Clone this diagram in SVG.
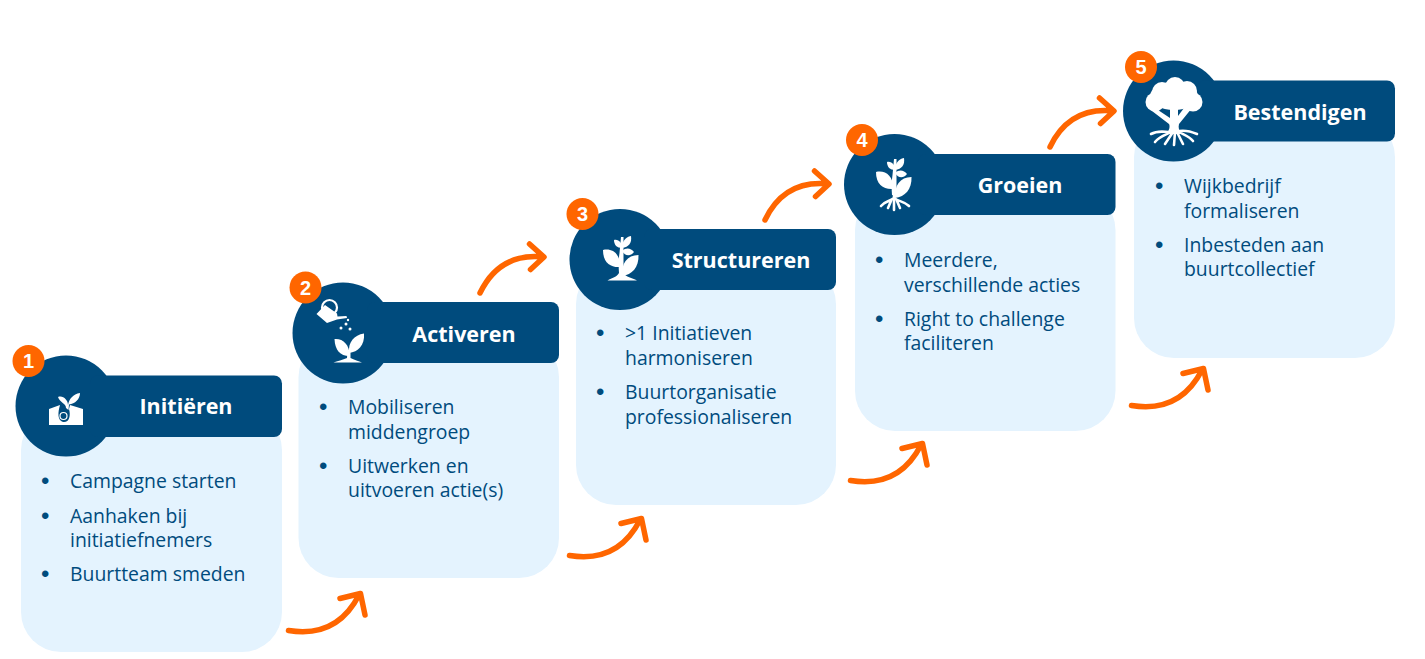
<svg xmlns="http://www.w3.org/2000/svg" width="1425" height="659" viewBox="0 0 1425 659">
<style>
.panel{fill:#e4f3fe}
.head{fill:#004b7d}
.badge{fill:#ff6600}
.num{font:700 20px "Liberation Sans",Arial,sans-serif;fill:#fff;text-anchor:middle}
.title{font:700 21.5px "Open Sans","Liberation Sans",sans-serif;fill:#fff;text-anchor:middle}
.body{font:400 19.4px "Open Sans","Liberation Sans",sans-serif;fill:#004b7d}
.bul{font:400 24px "Liberation Sans",Arial,sans-serif;fill:#004b7d}
.ic{fill:#fff}
.ico{fill:none;stroke:#fff;stroke-linecap:round}
.arrow{fill:none;stroke:#ff6600;stroke-width:5.5;stroke-linecap:round;stroke-linejoin:round}
</style>
<defs>
<g id="plant3">
<path class="ic" d="M-2,-8 C-2.500,-14 -2.500,-22 -1.500,-28 L0,-44 L2.500,-44 L2.500,-28 C2.500,-22 2.500,-14 2.500,-8 Z"/>
<path class="ic" d="M-18,-31 C-9,-33 -1,-28 -0.500,-14 C-10,-13 -18,-18 -18,-31 Z"/>
<path class="ic" d="M17.500,-26 C18,-14 11,-6 1,-5 C0,-17 6,-26 17.500,-26 Z"/>
<path class="ic" d="M-7,-41 C-2,-42 1,-38 1,-33 C-4,-33 -7,-36 -7,-41 Z"/>
<path class="ic" d="M10,-45 C11,-38 8,-34 1,-33 C1,-39 4,-44 10,-45 Z"/>
<path class="ic" d="M13,-29 C9,-24 4,-25 1,-30 C5,-34 10,-33 13,-29 Z"/>
</g>
<path id="up" class="arrow" d="M480,293 C492,268 512,254 543,257 M529.500,244 L544,257 L530.500,269.500"/>
<path id="low" class="arrow" d="M288.500,630.500 C316,635 342,628 359,595 M340,598.500 L360.500,593.500 L365,615"/>
</defs>

<g id="connectors">
<use href="#low"/>
<use href="#low" x="281" y="-75"/>
<use href="#low" x="562" y="-150"/>
<use href="#low" x="843" y="-225"/>
<use href="#up"/>
<use href="#up" x="285" y="-73"/>
<use href="#up" x="570" y="-146"/>
</g>

<g id="step1">
<rect class="panel" x="21" y="410" width="261" height="242" rx="40"/>
<circle class="head" cx="66" cy="406" r="50.5"/>
<rect class="head" x="90" y="375.5" width="192" height="61.5" rx="8"/>
<circle class="badge" cx="28.500" cy="361" r="16"/>
<text class="num" x="28.500" y="368">1</text>
<g>
<path class="ic" d="M49,425 V409 L60,405 C58,412 57,420 63,422 C69,423 71,416 69,409 L70,405 L83,409 V425 Z"/>
<path class="ic" d="M66,408 C66,403 60,403 58,397 C63,395 68,400 68,405 C69,399 73,394 80,393 C80,399 75,404 69,404.500 L68.500,410 Z"/>
<circle cx="63.500" cy="416" r="3.500" fill="none" stroke="#fff" stroke-width="1.200"/>
</g>
<text class="title" x="186" y="414">Initiëren</text>
<text class="bul" x="41" y="489">•</text><text class="body" x="70" y="488">Campagne starten</text>
<text class="bul" x="41" y="524">•</text><text class="body" x="70" y="523">Aanhaken bij</text>
<text class="body" x="70" y="547">initiatiefnemers</text>
<text class="bul" x="41" y="582">•</text><text class="body" x="70" y="581">Buurtteam smeden</text>
</g>

<g id="step2">
<rect class="panel" x="298.500" y="337" width="260.500" height="241" rx="40"/>
<circle class="head" cx="343" cy="333" r="50.5"/>
<rect class="head" x="367" y="302" width="192" height="61" rx="8"/>
<circle class="badge" cx="305.500" cy="287.500" r="16"/>
<text class="num" x="305.500" y="294.500">2</text>
<g>
<path class="ic" d="M316.500,314 L325,305 L337,313.500 L337.500,316.500 L346.500,316 L347,318 L337,319.500 L327,323 Z"/>
<circle cx="329.500" cy="307.500" r="7.500" fill="none" stroke="#fff" stroke-width="2.200"/>
<circle class="ic" cx="341" cy="328" r="1.500"/><circle class="ic" cx="346" cy="324" r="1.500"/><circle class="ic" cx="350" cy="329" r="1.500"/><circle class="ic" cx="348" cy="320" r="1.200"/>
<path class="ic" d="M334.500,339 C342,338 350,344 349.500,356 C340,356 335,350 334.500,339 Z"/>
<path class="ic" d="M364,333.500 C365,345 358,352 349,353 C348,342 354,335 364,333.500 Z"/>
<path class="ic" d="M347.500,350 H350.500 V358 C354,360 359,361 362,362.500 H333.500 C337,361 343,360 347,358 Z"/>
</g>
<text class="title" x="464" y="342">Activeren</text>
<text class="bul" x="319" y="415">•</text><text class="body" x="348" y="414">Mobiliseren</text>
<text class="body" x="348" y="439">middengroep</text>
<text class="bul" x="319" y="474">•</text><text class="body" x="348" y="473">Uitwerken en</text>
<text class="body" x="348" y="497">uitvoeren actie(s)</text>
</g>

<g id="step3">
<rect class="panel" x="576" y="264" width="260" height="241" rx="40"/>
<circle class="head" cx="620" cy="259.500" r="50.5"/>
<rect class="head" x="644" y="229" width="192" height="61" rx="8"/>
<circle class="badge" cx="582.500" cy="214" r="16"/>
<text class="num" x="582.500" y="221">3</text>
<g>
<use href="#plant3" x="621" y="281"/>
<path class="ic" d="M607.500,280.500 C612,278 617,277 619,273 H623 C626,277 632,278 637,280.500 Z"/>
</g>
<text class="title" x="741" y="268">Structureren</text>
<text class="bul" x="596" y="341">•</text><text class="body" x="625" y="340">&gt;1 Initiatieven</text>
<text class="body" x="625" y="365">harmoniseren</text>
<text class="bul" x="596" y="400">•</text><text class="body" x="625" y="399">Buurtorganisatie</text>
<text class="body" x="625" y="424">professionaliseren</text>
</g>

<g id="step4">
<rect class="panel" x="855" y="190" width="260.500" height="241" rx="40"/>
<circle class="head" cx="894.500" cy="184.500" r="50.5"/>
<rect class="head" x="918" y="154" width="197.500" height="61" rx="8"/>
<circle class="badge" cx="862" cy="140" r="16"/>
<text class="num" x="862" y="147">4</text>
<g>
<use href="#plant3" x="894" y="203"/>
<path class="ico" stroke-width="2.600" d="M894,194 V210 M894,198 C889,202 885,201 881,206 M894,198 C899,202 904,201 909,206 M891,201 L888,208 M897,201 L900,208"/>
</g>
<text class="title" x="1020" y="193">Groeien</text>
<text class="bul" x="875" y="268">•</text><text class="body" x="904" y="267">Meerdere,</text>
<text class="body" x="904" y="292">verschillende acties</text>
<text class="bul" x="875" y="327">•</text><text class="body" x="904" y="326">Right to challenge</text>
<text class="body" x="904" y="350">faciliteren</text>
</g>

<g id="step5">
<rect class="panel" x="1134" y="117" width="261" height="241" rx="40"/>
<circle class="head" cx="1173.500" cy="111" r="50.5"/>
<rect class="head" x="1197" y="80.500" width="198" height="61" rx="8"/>
<circle class="badge" cx="1141" cy="67" r="16"/>
<text class="num" x="1141" y="74">5</text>
<g>
<ellipse class="ic" cx="1174" cy="96" rx="24" ry="14"/>
<circle class="ic" cx="1155" cy="102" r="9.500"/>
<circle class="ic" cx="1162" cy="92" r="10"/>
<circle class="ic" cx="1175" cy="87" r="10"/>
<circle class="ic" cx="1187" cy="91" r="10"/>
<circle class="ic" cx="1193" cy="102" r="9.500"/>
<path class="ic" d="M1158,110 L1170,118 L1170,108 H1178 V116 L1184,108 H1192 L1179,124 C1178,128 1179,131 1182,134 H1166 C1170,130 1170,126 1169,124 L1152,111 Z"/>
<path class="ico" stroke-width="2.600" d="M1170,132 C1164,132 1158,130 1151,134 M1171,132 C1166,135 1160,136 1155,142 M1173,132 L1165,144 M1175,132 L1174,145 M1177,132 L1183,144 M1179,132 C1184,135 1189,136 1193,141 M1179,131 C1185,130 1190,131 1197,134"/>
</g>
<text class="title" x="1300" y="120">Bestendigen</text>
<text class="bul" x="1155" y="194">•</text><text class="body" x="1184" y="193">Wijkbedrijf</text>
<text class="body" x="1184" y="218">formaliseren</text>
<text class="bul" x="1155" y="253">•</text><text class="body" x="1184" y="252">Inbesteden aan</text>
<text class="body" x="1184" y="276">buurtcollectief</text>
</g>
</svg>
